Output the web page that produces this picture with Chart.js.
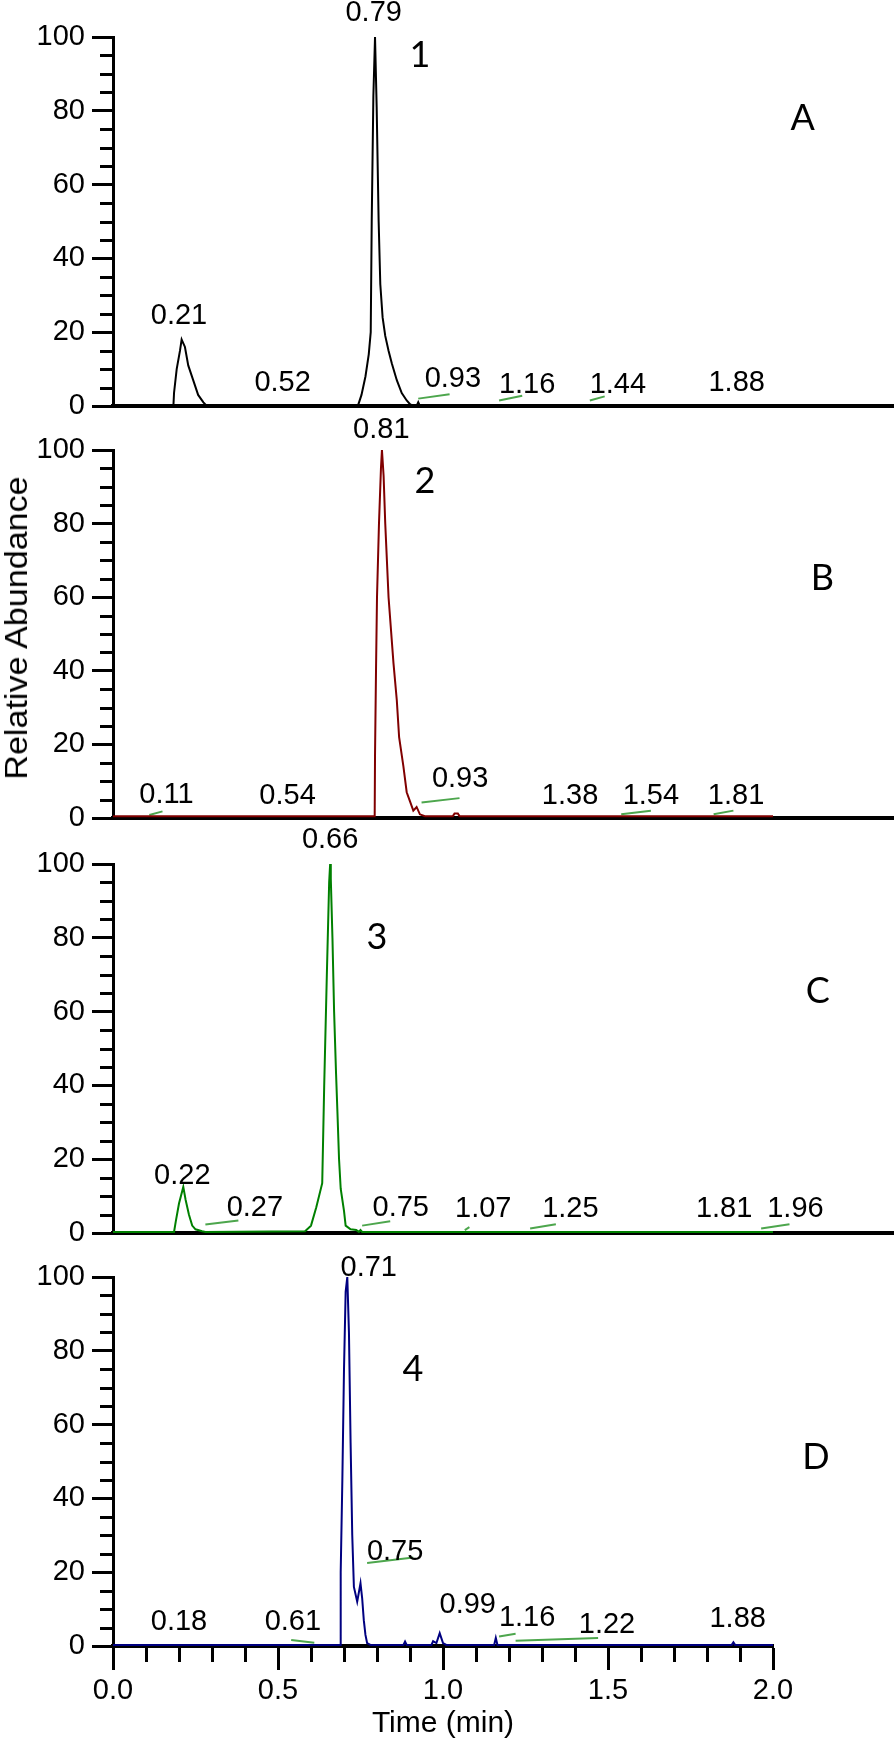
<!DOCTYPE html>
<html>
<head>
<meta charset="utf-8">
<script src="https://cdn.jsdelivr.net/npm/chart.js@4.4.0/dist/chart.umd.min.js"></script>
<style>
  html, body { margin: 0; padding: 0; background: #fff; }
  #wrap { position: relative; width: 894px; height: 1750px; overflow: hidden; }
  #wrap canvas { position: absolute; left: 0; }
  #ylab {
    position: absolute; left: 17px; top: 628px;
    transform: translate(-50%, -50%) rotate(-90deg) scaleX(1.1);
    font: 31px "Liberation Sans", Arial, sans-serif; white-space: nowrap; color: #000;
  }
</style>
</head>
<body>
<div id="wrap">
  <canvas id="panelA"></canvas>
  <canvas id="panelB"></canvas>
  <canvas id="panelC"></canvas>
  <canvas id="panelD"></canvas>
  <div id="ylab">Relative Abundance</div>
</div>
<script>
// chromatogram traces (time in min, relative abundance in %)
const timeA = [0, 0.183, 0.185, 0.193, 0.203, 0.208, 0.218, 0.228, 0.243, 0.258, 0.274, 0.284,
  0.743, 0.753, 0.765, 0.775, 0.781, 0.784, 0.789, 0.794, 0.799, 0.805, 0.81, 0.817, 0.825, 0.835,
  0.845, 0.86, 0.875, 0.89, 0.90, 0.91, 0.92, 0.925, 0.93, 2.0];
const abundA = [0, 0, 3.6, 10, 15, 18, 16, 11, 7, 3, 1, 0,
  0.3, 3, 8, 14, 20, 50, 84, 100, 81, 50, 33, 24, 19, 15,
  11.5, 7, 3.5, 1.5, 0.5, 0, 0, 1, 0, 0];

const timeB = [0, 0.793, 0.794, 0.797, 0.80, 0.806, 0.812, 0.815, 0.82, 0.825, 0.835, 0.85, 0.86,
  0.867, 0.88, 0.89, 0.90, 0.91, 0.92, 0.93, 0.945, 1.03, 1.035, 1.045, 1.05, 2.0];
const abundB = [0.5, 0.5, 17, 40, 60, 80, 95, 100, 93, 80, 60, 42, 32,
  22, 14, 7, 4.5, 2, 3, 1, 0.5, 0.5, 1.2, 1.2, 0.5, 0.5];

const timeC = [0, 0.185, 0.19, 0.20, 0.213, 0.22, 0.23, 0.24, 0.25, 0.27, 0.28,
  0.582, 0.60, 0.616, 0.634, 0.64, 0.648, 0.655, 0.658, 0.66, 0.665, 0.67, 0.676, 0.68, 0.685,
  0.69, 0.70, 0.705, 0.72, 0.737, 0.745, 0.75, 0.755, 2.0];
const abundC = [0.3, 0.3, 3, 8, 12.5, 9, 5, 2, 1, 0.5, 0.3,
  0.5, 2, 7, 13.5, 40, 70, 95, 100, 96, 80, 60, 43, 33, 20,
  12, 6, 2, 1, 0.8, 0.3, 0.8, 0.3, 0.3];

const timeD = [0, 0.689, 0.69, 0.695, 0.70, 0.705, 0.71, 0.715, 0.72, 0.725, 0.73, 0.74, 0.75,
  0.755, 0.76, 0.765, 0.77, 0.78, 0.88, 0.885, 0.89, 0.965, 0.97, 0.98, 0.99, 1.00, 1.01,
  1.155, 1.16, 1.165, 1.875, 1.88, 1.885, 2.0];
const abundD = [0.3, 0.3, 20, 45, 75, 96, 100, 85, 55, 30, 16, 12, 17,
  13, 7, 3, 0.8, 0.3, 0.3, 1.2, 0.3, 0.3, 1.3, 0.8, 3.5, 0.8, 0.3,
  0.3, 2.2, 0.3, 0.3, 1.0, 0.3, 0.3];

// integration baseline marks: [t0, y0, t1, y1]
const baseA = [[0.925, 2.0, 1.02, 3.2], [1.17, 1.5, 1.24, 2.8], [1.445, 1.5, 1.49, 2.6]];
const baseB = [[0.11, 0.8, 0.15, 1.8], [0.935, 4.2, 1.05, 5.4], [1.54, 1.0, 1.63, 2.0], [1.82, 1.0, 1.88, 2.0]];
const baseC = [[0.28, 2.3, 0.38, 3.4], [0.755, 2.0, 0.84, 3.2], [1.066, 0.8, 1.08, 1.6],
  [1.264, 1.2, 1.342, 2.4], [1.964, 1.2, 2.05, 2.4]];
const baseD = [[0.54, 1.6, 0.61, 0.9], [0.77, 22.5, 0.91, 24], [1.17, 2.6, 1.22, 3.3], [1.22, 1.4, 1.47, 2.2]];

// peak labels
const peakTextA = ['0.79', '0.21', '0.52', '0.93', '1.16', '1.44', '1.88'];
const peakXA = [0.79, 0.2, 0.514, 1.03, 1.255, 1.53, 1.89];
const peakYA = [106.5, 24.5, 6.2, 7.3, 5.8, 5.8, 6.2];

const peakTextB = ['0.81', '0.11', '0.54', '0.93', '1.38', '1.54', '1.81'];
const peakXB = [0.813, 0.162, 0.529, 1.052, 1.385, 1.63, 1.888];
const peakYB = [105.5, 6.3, 6.0, 10.5, 6.0, 6.0, 6.0];

const peakTextC = ['0.66', '0.22', '0.27', '0.75', '1.07', '1.25', '1.81', '1.96'];
const peakXC = [0.658, 0.21, 0.43, 0.872, 1.122, 1.386, 1.852, 2.068];
const peakYC = [106.5, 15.5, 6.8, 6.8, 6.6, 6.6, 6.6, 6.6];

const peakTextD = ['0.71', '0.18', '0.61', '0.75', '0.99', '1.16', '1.22', '1.88'];
const peakXD = [0.775, 0.2, 0.545, 0.855, 1.075, 1.255, 1.497, 1.893];
const peakYD = [102.5, 6.5, 6.5, 25.5, 11.2, 7.6, 5.8, 7.3];

// compound number and panel letter
const tagText = [['1', 'A'], ['2', 'B'], ['3', 'C'], ['4', 'D']];
const tagX = [[0.93, 2.09], [0.945, 2.15], [0.80, 2.136], [0.909, 2.13]];
const tagY = [[95, 78], [91.5, 65], [80, 65.6], [75, 51]];

const yTicks = [0, 20, 40, 60, 80, 100];
const xTicks = [0, 0.5, 1.0, 1.5, 2.0];

const FONT = '"Liberation Sans", Arial, sans-serif';

const minorTicks = {
  id: 'minorTicks',
  afterDraw(chart, args, opts) {
    const { ctx, chartArea, scales: { x, y } } = chart;
    ctx.save();
    ctx.strokeStyle = '#000';
    ctx.lineWidth = 3;
    ctx.beginPath();
    for (let v = 0; v <= 100; v += 5) {
      if (v % 20 === 0) continue;
      const py = Math.round(y.getPixelForValue(v)) + 0.5;
      ctx.moveTo(chartArea.left - 13, py);
      ctx.lineTo(chartArea.left, py);
    }
    if (opts.xMinor) {
      for (let k = 0; k <= 20; k++) {
        if (k % 5 === 0) continue;
        const px = Math.round(x.getPixelForValue(k / 10)) + 0.5;
        ctx.moveTo(px, chartArea.bottom);
        ctx.lineTo(px, chartArea.bottom + 16);
      }
    }
    ctx.stroke();
    ctx.restore();
  }
};

const annotate = {
  id: 'annotate',
  afterDatasetsDraw(chart, args, opts) {
    const { ctx, scales: { x, y } } = chart;
    ctx.save();
    ctx.fillStyle = '#000';
    ctx.textAlign = 'center';
    ctx.textBaseline = 'middle';
    ctx.font = '29px ' + FONT;
    opts.text.forEach((s, i) => {
      ctx.fillText(s, x.getPixelForValue(opts.x[i]), y.getPixelForValue(opts.y[i]));
    });
    ctx.font = '36px Lato, "DejaVu Sans", sans-serif';
    opts.tags.forEach((s, i) => {
      ctx.fillText(s, x.getPixelForValue(opts.tagX[i]), y.getPixelForValue(opts.tagY[i]));
    });
    ctx.restore();
  }
};

// zero line of A-C sits 25px above the canvas bottom (room for the "0" label)
const panels = [
  { id: 'panelA', top: 0, height: 431, time: timeA, abund: abundA, base: baseA, color: '#000000',
    text: peakTextA, px: peakXA, py: peakYA },
  { id: 'panelB', top: 413, height: 430, time: timeB, abund: abundB, base: baseB, color: '#800000',
    text: peakTextB, px: peakXB, py: peakYB },
  { id: 'panelC', top: 827, height: 431, time: timeC, abund: abundC, base: baseC, color: '#008000',
    text: peakTextC, px: peakXC, py: peakYC },
  { id: 'panelD', top: 1240, height: 510, time: timeD, abund: abundD, base: baseD, color: '#000080',
    text: peakTextD, px: peakXD, py: peakYD }
];

panels.forEach((p, n) => {
  const last = n === panels.length - 1;
  const cv = document.getElementById(p.id);
  cv.width = 894;
  cv.height = p.height;
  cv.style.top = p.top + 'px';

  const datasets = [{
    data: p.time.map((t, i) => ({ x: t, y: p.abund[i] })),
    borderColor: p.color,
    borderWidth: 2,
    pointRadius: 0,
    tension: 0
  }];
  p.base.forEach(b => datasets.push({
    data: [{ x: b[0], y: b[1] }, { x: b[2], y: b[3] }],
    borderColor: '#4da64d',
    borderWidth: 2,
    pointRadius: 0
  }));

  new Chart(cv.getContext('2d'), {
    type: 'line',
    data: { datasets },
    plugins: [minorTicks, annotate],
    options: {
      responsive: false,
      animation: false,
      events: [],
      layout: { padding: { top: 37, bottom: last ? 0 : 25, left: 0, right: last ? 121 : 0 } },
      plugins: {
        legend: { display: false },
        tooltip: { enabled: false },
        minorTicks: { xMinor: last },
        annotate: {
          text: p.text, x: p.px, y: p.py,
          tags: tagText[n], tagX: tagX[n], tagY: tagY[n]
        }
      },
      scales: {
        x: {
          type: 'linear',
          min: 0,
          max: last ? 2.0 : 2.0 + 121 / 330,
          afterBuildTicks: s => { s.ticks = xTicks.map(v => ({ value: v })); },
          ticks: {
            display: last,
            callback: v => Number(v).toFixed(1),
            font: { family: FONT, size: 29 },
            color: '#000',
            padding: 4,
            maxRotation: 0,
            autoSkip: false
          },
          grid: { drawOnChartArea: false, drawTicks: last, tickLength: 24, tickWidth: 3, tickColor: '#000' },
          border: { color: '#000', width: 4 },
          title: {
            display: last,
            text: 'Time (min)',
            font: { family: FONT, size: 30 },
            color: '#000',
            padding: { top: 0, bottom: 8 }
          },
          afterFit: s => { s.height = last ? 104 : 0; }
        },
        y: {
          min: 0,
          max: 100,
          afterBuildTicks: s => { s.ticks = yTicks.map(v => ({ value: v })); },
          ticks: { font: { family: FONT, size: 29 }, color: '#000', padding: 7 },
          grid: { drawOnChartArea: false, tickLength: 21, tickWidth: 3, tickColor: '#000' },
          border: { color: '#000', width: 3 },
          afterFit: s => { s.width = 113; }
        }
      }
    }
  });
});
</script>
</body>
</html>
